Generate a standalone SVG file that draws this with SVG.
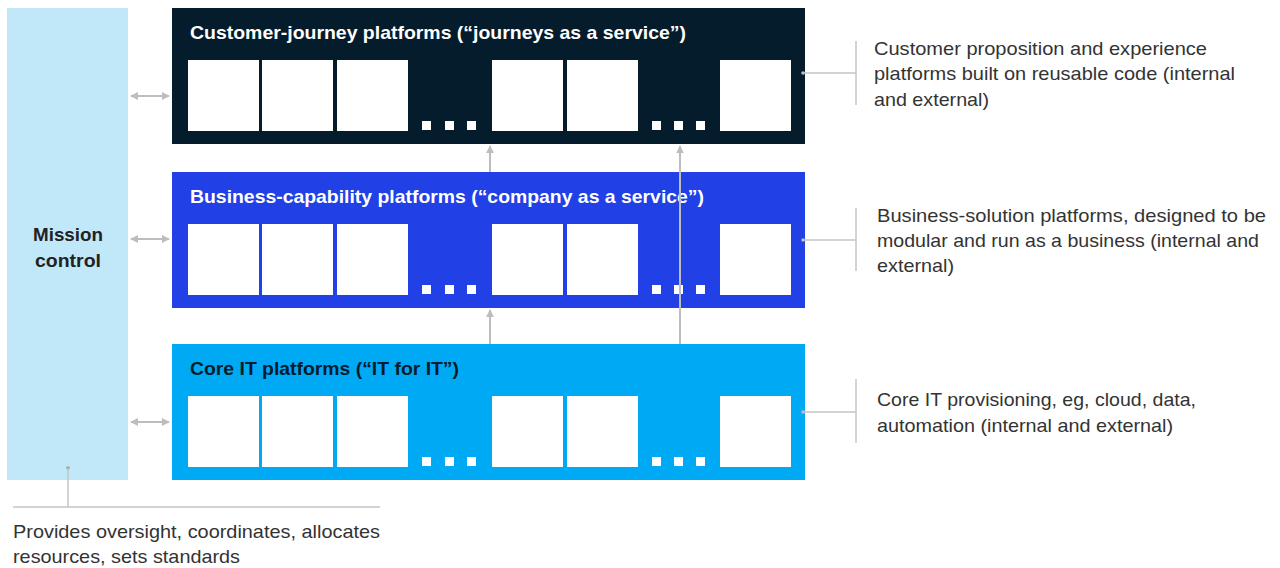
<svg xmlns="http://www.w3.org/2000/svg" width="1280" height="568" viewBox="0 0 1280 568">
<defs>
<style>
.ttl{font-family:"Liberation Sans",Arial,sans-serif;font-weight:bold;font-size:19px}
.ann{font-family:"Liberation Sans",Arial,sans-serif;font-size:19px;fill:#333333}
.sq{fill:#ffffff}
.ln{stroke:#bdbdbd;stroke-width:2;fill:none}
.thin{stroke:#c4c4c4;stroke-width:1.5;fill:none}
</style>
<marker id="ah" viewBox="0 0 10 10" refX="9" refY="5" markerWidth="4" markerHeight="4" orient="auto-start-reverse">
<path d="M0,0 L10,5 L0,10 z" fill="#bdbdbd"/>
</marker>
<g id="row">
<rect class="sq" x="188" y="0" width="71" height="71"/>
<rect class="sq" x="262" y="0" width="71" height="71"/>
<rect class="sq" x="337" y="0" width="71" height="71"/>
<rect class="sq" x="422" y="61" width="9" height="9"/>
<rect class="sq" x="445" y="61" width="9" height="9"/>
<rect class="sq" x="467" y="61" width="9" height="9"/>
<rect class="sq" x="492" y="0" width="71" height="71"/>
<rect class="sq" x="567" y="0" width="71" height="71"/>
<rect class="sq" x="652" y="61" width="9" height="9"/>
<rect class="sq" x="674" y="61" width="9" height="9"/>
<rect class="sq" x="696" y="61" width="9" height="9"/>
<rect class="sq" x="720" y="0" width="71" height="71"/>
</g>
</defs>
<rect width="1280" height="568" fill="#ffffff"/>

<g id="mission-control">
<rect x="7" y="8" width="121" height="472" fill="#c1e8f9"/>
<text class="ttl" x="33" y="241" textLength="70" lengthAdjust="spacingAndGlyphs" fill="#222222">Mission</text>
<text class="ttl" x="35" y="267" textLength="66" lengthAdjust="spacingAndGlyphs" fill="#222222">control</text>
</g>

<g id="customer-journey">
<rect x="172" y="8" width="633" height="136" fill="#051c2c"/>
<text class="ttl" x="190" y="39" textLength="496" lengthAdjust="spacingAndGlyphs" fill="#ffffff">Customer-journey platforms (“journeys as a service”)</text>
<use href="#row" y="60"/>
</g>

<g id="business-capability">
<rect x="172" y="172" width="633" height="136" fill="#2140e6"/>
<text class="ttl" x="190" y="203" textLength="514" lengthAdjust="spacingAndGlyphs" fill="#ffffff">Business-capability platforms (“company as a service”)</text>
<use href="#row" y="224"/>
</g>

<g id="core-it">
<rect x="172" y="344" width="633" height="136" fill="#00a9f4"/>
<text class="ttl" x="190" y="375" textLength="269" lengthAdjust="spacingAndGlyphs" fill="#051c2c">Core IT platforms (“IT for IT”)</text>
<use href="#row" y="396"/>
</g>

<g id="connectors">
<line class="ln" x1="131" y1="96" x2="169" y2="96" marker-start="url(#ah)" marker-end="url(#ah)"/>
<line class="ln" x1="131" y1="239" x2="169" y2="239" marker-start="url(#ah)" marker-end="url(#ah)"/>
<line class="ln" x1="131" y1="422" x2="169" y2="422" marker-start="url(#ah)" marker-end="url(#ah)"/>
<line class="ln" x1="490" y1="172" x2="490" y2="146" marker-end="url(#ah)"/>
<line class="ln" x1="490" y1="344" x2="490" y2="310" marker-end="url(#ah)"/>
<line class="ln" x1="680" y1="344" x2="680" y2="146" marker-end="url(#ah)"/>
</g>

<g id="annotation-journey">
<circle cx="803" cy="73" r="1.8" fill="#bdbdbd"/>
<line class="thin" x1="803" y1="73" x2="856" y2="73"/>
<line class="thin" x1="856" y1="41" x2="856" y2="105"/>
<text class="ann" x="874" y="55" textLength="333" lengthAdjust="spacingAndGlyphs">Customer proposition and experience</text>
<text class="ann" x="874" y="80" textLength="361" lengthAdjust="spacingAndGlyphs">platforms built on reusable code (internal</text>
<text class="ann" x="874" y="106" textLength="115" lengthAdjust="spacingAndGlyphs">and external)</text>
</g>

<g id="annotation-business">
<circle cx="803" cy="240" r="1.8" fill="#bdbdbd"/>
<line class="thin" x1="803" y1="240" x2="856" y2="240"/>
<line class="thin" x1="856" y1="208" x2="856" y2="271"/>
<text class="ann" x="877" y="222" textLength="389" lengthAdjust="spacingAndGlyphs">Business-solution platforms, designed to be</text>
<text class="ann" x="877" y="247" textLength="382" lengthAdjust="spacingAndGlyphs">modular and run as a business (internal and</text>
<text class="ann" x="877" y="272" textLength="77" lengthAdjust="spacingAndGlyphs">external)</text>
</g>

<g id="annotation-core">
<circle cx="803" cy="412" r="1.8" fill="#bdbdbd"/>
<line class="thin" x1="803" y1="412" x2="856" y2="412"/>
<line class="thin" x1="856" y1="379" x2="856" y2="443"/>
<text class="ann" x="877" y="406" textLength="319" lengthAdjust="spacingAndGlyphs">Core IT provisioning, eg, cloud, data,</text>
<text class="ann" x="877" y="432" textLength="296" lengthAdjust="spacingAndGlyphs">automation (internal and external)</text>
</g>

<g id="annotation-mission">
<circle cx="68" cy="468" r="1.8" fill="#a0a0a0"/>
<line class="thin" x1="68" y1="468" x2="68" y2="507"/>
<line class="thin" x1="13" y1="507" x2="380" y2="507"/>
<text class="ann" x="13" y="538" textLength="367" lengthAdjust="spacingAndGlyphs">Provides oversight, coordinates, allocates</text>
<text class="ann" x="13" y="563" textLength="227" lengthAdjust="spacingAndGlyphs">resources, sets standards</text>
</g>
</svg>
